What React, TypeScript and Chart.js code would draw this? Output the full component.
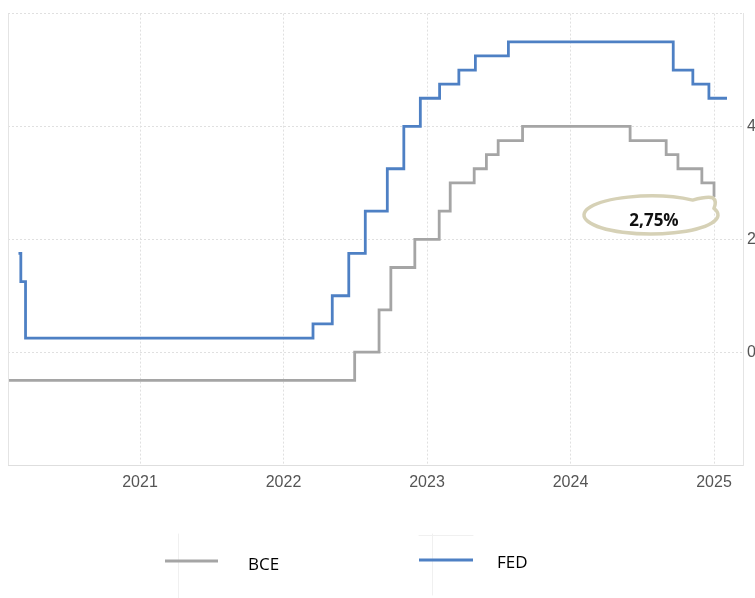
import React, { useEffect, useRef } from 'react';
import { Chart, registerables } from 'chart.js';

Chart.register(...registerables);

// ---- Data ----
const seriesNames = ['BCE', 'FED'];
const bceDates = [
  '2020-01-01', '2022-07-01', '2022-09-01', '2022-10-01', '2022-12-01',
  '2023-02-01', '2023-03-01', '2023-05-01', '2023-06-01', '2023-07-01',
  '2023-09-01', '2024-06-01', '2024-09-01', '2024-10-01', '2024-12-01',
  '2025-01-01',
];
const bceValues = [-0.5, 0, 0.75, 1.5, 2, 2.5, 3, 3.25, 3.5, 3.75, 4, 3.75, 3.5, 3.25, 3, 2.75];
const fedDates = [
  '2020-02-26', '2020-03-03', '2020-03-15', '2022-03-17', '2022-05-05',
  '2022-06-16', '2022-07-28', '2022-09-22', '2022-11-03', '2022-12-15',
  '2023-02-02', '2023-03-23', '2023-05-04', '2023-07-27', '2024-09-19',
  '2024-11-08', '2024-12-19', '2025-02-03',
];
const fedValues = [1.75, 1.25, 0.25, 0.5, 1, 1.75, 2.5, 3.25, 4, 4.5, 4.75, 5, 5.25, 5.5, 5, 4.75, 4.5, 4.5];
const yearTicks = [2021, 2022, 2023, 2024, 2025];
const yTicks = [-2, 0, 2, 4, 6];
const yTickLabels = [0, 2, 4];
const annotationText = '2,75%';

const X_MIN = 2020.08;
const X_MAX = 2025.202;

const toYear = (s: string) => {
  const [y, m, d] = s.split('-').map(Number);
  const start = Date.UTC(y, 0, 1);
  const end = Date.UTC(y + 1, 0, 1);
  return y + (Date.UTC(y, m - 1, d) - start) / (end - start);
};

const BCE_COLOR = '#a5a5a5';
const FED_COLOR = '#4e80c4';

const overlayPlugin = {
  id: 'overlay',
  afterDraw(chart: any) {
    const ctx = chart.ctx as CanvasRenderingContext2D;
    const a = chart.chartArea;
    const xs = chart.scales.x;
    const ys = chart.scales.y;
    ctx.save();
    // left border
    ctx.strokeStyle = '#e4e4e4';
    ctx.lineWidth = 1;
    ctx.beginPath();
    ctx.moveTo(a.left + 0.5, a.top);
    ctx.lineTo(a.left + 0.5, a.bottom);
    ctx.stroke();

    // annotation bubble anchored at last BCE point
    const li = bceValues.length - 1;
    const px = xs.getPixelForValue(toYear(bceDates[li]));
    const py = ys.getPixelForValue(bceValues[li]);
    const cx = px - 63;
    const cy = py + 18;
    const rx = 67;
    const ry = 19;
    const a0 = -0.35;
    const a1 = Math.PI * 2 - 0.9;
    ctx.strokeStyle = '#d6d1b6';
    ctx.lineWidth = 3.5;
    ctx.lineJoin = 'round';
    ctx.lineCap = 'round';
    ctx.beginPath();
    ctx.ellipse(cx, cy, rx, ry, 0, a0, a1, false);
    const sx = cx + rx * Math.cos(a0);
    const sy = cy + ry * Math.sin(a0);
    ctx.quadraticCurveTo(px - 6, py - 1, px - 1, py + 1);
    ctx.quadraticCurveTo(px + 3, py + 4, sx, sy);
    ctx.stroke();

    ctx.fillStyle = '#111';
    ctx.font = 'bold 17px "Open Sans", "Noto Sans", sans-serif';
    ctx.textAlign = 'center';
    ctx.textBaseline = 'middle';
    ctx.fillText(annotationText, cx + 3, cy + 6);

    // legend
    const faint = '#f0f0f0';
    ctx.strokeStyle = faint;
    ctx.lineWidth = 1;
    ctx.beginPath();
    ctx.moveTo(178.5, 534);
    ctx.lineTo(178.5, 598);
    ctx.moveTo(432.5, 534);
    ctx.lineTo(432.5, 595);
    ctx.moveTo(419, 535.5);
    ctx.lineTo(473, 535.5);
    ctx.stroke();

    const items = [
      { label: seriesNames[0], color: BCE_COLOR, x0: 165, x1: 218, ly: 561, tx: 248, ty: 565 },
      { label: seriesNames[1], color: FED_COLOR, x0: 419, x1: 473, ly: 560, tx: 497, ty: 563 },
    ];
    ctx.lineCap = 'butt';
    items.forEach((it) => {
      ctx.strokeStyle = it.color;
      ctx.lineWidth = 3;
      ctx.beginPath();
      ctx.moveTo(it.x0, it.ly);
      ctx.lineTo(it.x1, it.ly);
      ctx.stroke();
      ctx.fillStyle = '#000';
      ctx.font = '17px "Open Sans", "Noto Sans", sans-serif';
      ctx.textAlign = 'left';
      ctx.textBaseline = 'middle';
      ctx.fillText(it.label, it.tx, it.ty);
    });
    ctx.restore();
  },
};

export default function App() {
  const canvasRef = useRef<HTMLCanvasElement | null>(null);

  useEffect(() => {
    document.body.style.margin = '0';
    const canvas = canvasRef.current;
    if (!canvas) return;
    const chart = new Chart(canvas, {
      type: 'line',
      data: {
        datasets: [
          {
            label: seriesNames[0],
            data: bceDates.map((d, i) => ({ x: toYear(d), y: bceValues[i] })),
            borderColor: BCE_COLOR,
            borderWidth: 2.8,
            pointRadius: 0,
            stepped: true,
            fill: false,
            clip: 0,
            borderJoinStyle: 'miter',
          },
          {
            label: seriesNames[1],
            data: fedDates.map((d, i) => ({ x: toYear(d), y: fedValues[i] })),
            borderColor: FED_COLOR,
            borderWidth: 2.8,
            pointRadius: 0,
            stepped: true,
            fill: false,
            clip: 0,
            borderJoinStyle: 'miter',
          },
        ],
      },
      options: {
        responsive: false,
        animation: false,
        events: [],
        layout: { padding: { left: 8, top: 11, right: 0, bottom: 93 } },
        plugins: {
          legend: { display: false },
          tooltip: { enabled: false },
        },
        scales: {
          x: {
            type: 'linear',
            min: X_MIN,
            max: X_MAX,
            afterBuildTicks: (scale: any) => {
              scale.ticks = yearTicks.map((v) => ({ value: v }));
            },
            afterFit: (scale: any) => {
              scale.height = 40;
            },
            grid: {
              color: '#e0e0e0',
              lineWidth: 1,
              drawTicks: false,
            },
            border: { display: true, color: '#dedede', width: 1, dash: [2, 2] },
            ticks: {
              padding: 8,
              color: '#555',
              font: { family: '"Liberation Sans", Arial, sans-serif', size: 16 },
              callback: (v: any) => String(v),
              maxRotation: 0,
            },
          },
          y: {
            type: 'linear',
            position: 'right',
            min: -2,
            max: 6,
            afterBuildTicks: (scale: any) => {
              scale.ticks = yTicks.map((v) => ({ value: v }));
            },
            afterFit: (scale: any) => {
              scale.width = 47;
            },
            grid: {
              color: '#e0e0e0',
              lineWidth: 1,
              drawTicks: false,
            },
            border: { display: true, color: '#e4e4e4', width: 1, dash: [2, 2] },
            ticks: {
              padding: 4,
              color: '#555',
              font: { family: '"Liberation Sans", Arial, sans-serif', size: 16 },
              callback: (v: any) => (yTickLabels.includes(Number(v)) ? String(v) : ''),
            },
          },
        },
      },
      plugins: [overlayPlugin],
    } as any);
    return () => chart.destroy();
  }, []);

  return (
    <div style={{ position: 'absolute', left: 0, top: 0, width: 755, height: 598, overflow: 'hidden', background: '#fff' }}>
      <canvas ref={canvasRef} width={790} height={598} style={{ display: 'block', width: 790, height: 598 }} />
    </div>
  );
}
